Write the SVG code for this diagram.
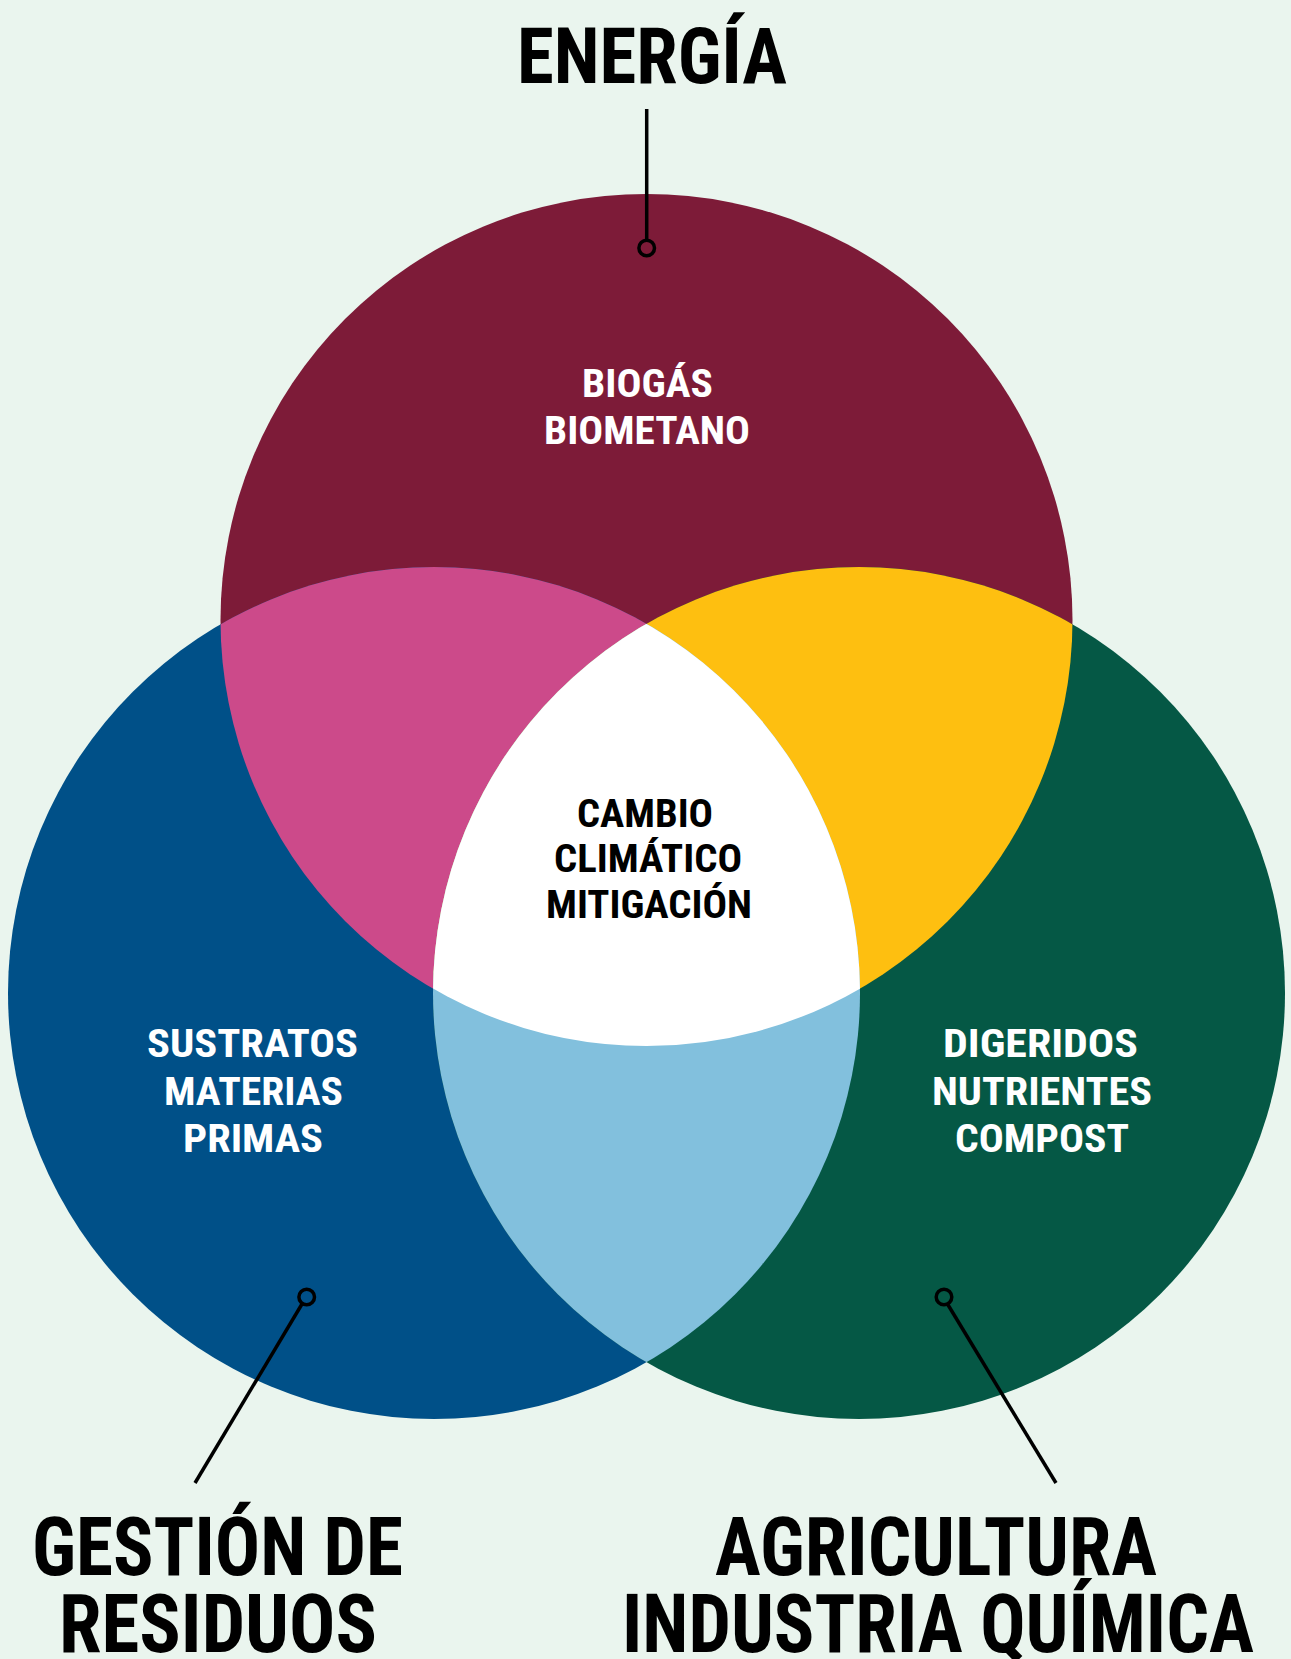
<svg xmlns="http://www.w3.org/2000/svg" width="1291" height="1659" viewBox="0 0 1291 1659">
<style>
.t{font-family:"Roboto Condensed","Liberation Sans Narrow","Liberation Sans",Arial,sans-serif;font-weight:700;}
.big{font-size:81px;fill:#000;}
.in{font-size:38px;}
.w{fill:#fff;}
.k{fill:#000;}
.ln{stroke:#000;stroke-width:3.5;fill:none;}
.dot{stroke:#000;stroke-width:3.5;fill:none;}
</style>
<defs>
<clipPath id="cTop"><circle cx="646.5" cy="620" r="426"/></clipPath>
<clipPath id="cLeft"><circle cx="434" cy="993" r="426"/></clipPath>
<clipPath id="cRight"><circle cx="859" cy="993" r="426"/></clipPath>
<clipPath id="cTopLeft" clip-path="url(#cTop)"><circle cx="434" cy="993" r="426"/></clipPath>
</defs>
<rect width="1291" height="1659" fill="#EAF5EE"/>
<g id="circles">
<circle id="energia-circle" cx="646.5" cy="620" r="426" fill="#7D1B38"/>
<circle id="residuos-circle" cx="434" cy="993" r="426" fill="#005088"/>
<circle id="agricultura-circle" cx="859" cy="993" r="426" fill="#055845"/>
<g clip-path="url(#cTop)"><circle cx="434" cy="993" r="426" fill="#CC4A8A"/></g>
<g clip-path="url(#cTop)"><circle cx="859" cy="993" r="426" fill="#FEBF10"/></g>
<g clip-path="url(#cLeft)"><circle cx="859" cy="993" r="426" fill="#82C0DD"/></g>
<g clip-path="url(#cTopLeft)"><circle cx="859" cy="993" r="426" fill="#FFFFFF"/></g>
</g>
<g id="connectors">
<line class="ln" x1="646.7" y1="109" x2="646.7" y2="240"/>
<circle class="dot" cx="646.7" cy="248" r="7.8"/>
<line class="ln" x1="302" y1="1304" x2="195" y2="1483"/>
<circle class="dot" cx="306.7" cy="1297" r="7.8"/>
<line class="ln" x1="947.5" y1="1304" x2="1056" y2="1483"/>
<circle class="dot" cx="944" cy="1297" r="7.8"/>
</g>
<g id="energia">
<text class="t k" x="517" y="83" font-size="78" textLength="270" lengthAdjust="spacingAndGlyphs">ENERGÍA</text>
</g>
<g id="biogas">
<text class="t in w" x="582" y="397" textLength="131" lengthAdjust="spacingAndGlyphs">BIOGÁS</text>
<text class="t in w" x="544" y="444" textLength="206" lengthAdjust="spacingAndGlyphs">BIOMETANO</text>
</g>
<g id="cambio">
<text class="t in k" x="577" y="827" textLength="136" lengthAdjust="spacingAndGlyphs">CAMBIO</text>
<text class="t in k" x="554" y="872" textLength="188" lengthAdjust="spacingAndGlyphs">CLIMÁTICO</text>
<text class="t in k" x="546" y="918" textLength="206" lengthAdjust="spacingAndGlyphs">MITIGACIÓN</text>
</g>
<g id="sustratos">
<text class="t in w" x="147" y="1057" textLength="211" lengthAdjust="spacingAndGlyphs">SUSTRATOS</text>
<text class="t in w" x="164" y="1105" textLength="179" lengthAdjust="spacingAndGlyphs">MATERIAS</text>
<text class="t in w" x="183" y="1152" textLength="140" lengthAdjust="spacingAndGlyphs">PRIMAS</text>
</g>
<g id="digeridos">
<text class="t in w" x="943" y="1057" textLength="195" lengthAdjust="spacingAndGlyphs">DIGERIDOS</text>
<text class="t in w" x="932" y="1105" textLength="220" lengthAdjust="spacingAndGlyphs">NUTRIENTES</text>
<text class="t in w" x="955" y="1152" textLength="174" lengthAdjust="spacingAndGlyphs">COMPOST</text>
</g>
<g id="gestion">
<text class="t big" x="32" y="1575" textLength="371" lengthAdjust="spacingAndGlyphs">GESTIÓN DE</text>
<text class="t big" x="59" y="1652" textLength="318" lengthAdjust="spacingAndGlyphs">RESIDUOS</text>
</g>
<g id="agricultura">
<text class="t big" x="715" y="1575" textLength="442" lengthAdjust="spacingAndGlyphs">AGRICULTURA</text>
<text class="t big" x="622" y="1652" textLength="632" lengthAdjust="spacingAndGlyphs">INDUSTRIA QUÍMICA</text>
</g>
</svg>
